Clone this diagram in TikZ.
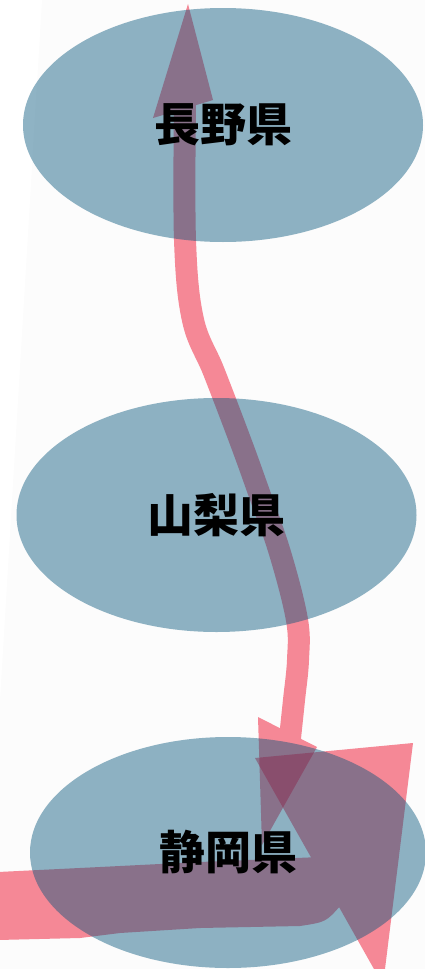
\documentclass[tikz,border=0pt]{standalone}
\usepackage{fontspec}
\setmainfont{Noto Sans CJK JP}
\usetikzlibrary{shapes.geometric}
\definecolor{pinkw}{RGB}{245,136,150}
\definecolor{pinkd}{RGB}{246,72,98}
\definecolor{ellc}{RGB}{6,86,124}
\definecolor{bgc}{RGB}{252,252,252}
\tikzset{
  pref/.style={ellipse, fill=ellc, fill opacity=0.45, text opacity=1, text=black,
    minimum width=400pt, minimum height=234pt, inner sep=0pt,
    font=\fontsize{46}{50}\selectfont\bfseries},
  flowfill/.style={fill=pinkw},
  flowline/.style={draw=pinkw, line width=22pt}
}
\begin{document}
\begin{tikzpicture}[x=1pt,y=-1pt]
\useasboundingbox (0,0) rectangle (425,969);
\fill[bgc] (42,0) -- (425,0) -- (425,969) -- (0,969) -- (0,700) -- cycle;

% thin flow: Nagano <-> Shizuoka through Yamanashi
\coordinate (ntip) at (188,4);
\coordinate (nbl) at (153,118);
\coordinate (nbr) at (213,100);
\coordinate (stl) at (258,717);
\coordinate (str) at (317,747);
\coordinate (stip) at (262,845);
\draw[flowline] plot[smooth, tension=0.6] coordinates {(185,100) (185,240) (193,320) (214,372) (240,440) (257,487) (280,553) (297,620) (298,660) (294,700) (290,738)};
\fill[flowfill] (ntip) -- (nbr) -- (nbl) -- cycle;
\fill[flowfill] (stl) -- (str) -- (stip) -- cycle;

% thick flow from the left into Shizuoka
\coordinate (btl) at (255,758);
\coordinate (btr) at (413,743);
\coordinate (btip) at (383,985);
\fill[flowfill] (-2,872) -- (100,867) -- (200,862) -- (320,857) -- (352,880) -- (341,905)
  .. controls (326,922) .. (300,926) -- (200,928) -- (120,933) -- (80,938) -- (-2,940) -- cycle;
\fill[flowfill] (btl) -- (btr) -- (btip) -- cycle;
\begin{scope}
  \clip (btl) -- (btr) -- (btip) -- cycle;
  \fill[pinkd] (stl) -- (str) -- (stip) -- cycle;
\end{scope}

% prefectures
\node[pref] (nagano) at (223,125) {長野県};
\node[pref] (yamanashi) at (216.5,515) {山梨県};
\node[pref, minimum width=396pt, minimum height=231pt] (shizuoka) at (228,852.5) {静岡県};
\end{tikzpicture}
\end{document}
